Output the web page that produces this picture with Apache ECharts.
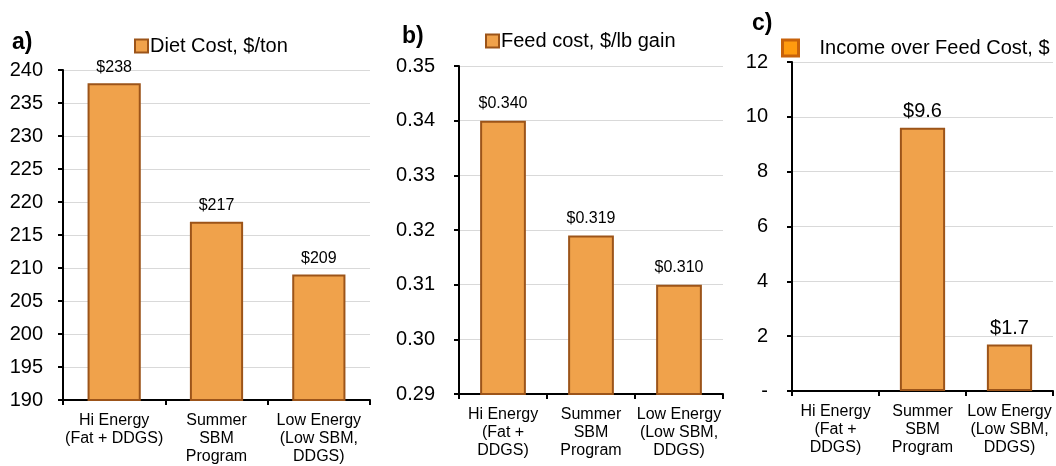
<!DOCTYPE html>
<html>
<head>
<meta charset="utf-8">
<script src="https://cdn.jsdelivr.net/npm/echarts@6/dist/echarts.min.js"></script>
<style>
  html, body { margin: 0; padding: 0; background: #fff; }
  #chart { width: 1056px; height: 466px; }
</style>
</head>
<body>
<div id="chart"></div>
<script>
// Category labels (panel a wraps differently from b and c)
const categoriesA = ['Hi Energy\n(Fat + DDGS)', 'Summer\nSBM\nProgram', 'Low Energy\n(Low SBM,\nDDGS)'];
const categoriesBC = ['Hi Energy\n(Fat +\nDDGS)', 'Summer\nSBM\nProgram', 'Low Energy\n(Low SBM,\nDDGS)'];

// Series values
const dietCost = [238, 217, 209];            // $/ton
const feedCost = [0.340, 0.319, 0.310];      // $/lb gain
const incomeOverFeed = [null, 9.6, 1.7];     // $

// Series names
const seriesNames = ['Diet Cost, $/ton', 'Feed cost, $/lb gain', 'Income over Feed Cost, $'];

// Axis ranges
const axisA = { min: 190, max: 240, interval: 5 };
const axisB = { min: 0.29, max: 0.35, interval: 0.01 };
const axisC = { min: 0, max: 12, interval: 2 };

const FONT = '"Liberation Sans", Arial, Helvetica, sans-serif';
const FILL = '#F0A24B';
const EDGE = '#9C5419';

const chart = echarts.init(document.getElementById('chart'), null, { renderer: 'canvas' });

function valueAxis(idx, range, margin, fmt) {
  return {
    type: 'value', gridIndex: idx,
    min: range.min, max: range.max, interval: range.interval,
    axisLine: { show: true, lineStyle: { color: '#000', width: 2 } },
    axisTick: { show: true, length: 5, inside: false, lineStyle: { color: '#000', width: 2 } },
    splitLine: { show: true, lineStyle: { color: '#d9d9d9', width: 1 } },
    axisLabel: { margin: margin, fontSize: 20, color: '#000', fontFamily: FONT, formatter: fmt }
  };
}

function catAxis(idx, cats) {
  return {
    type: 'category', gridIndex: idx, data: cats,
    axisLine: { show: true, lineStyle: { color: '#000', width: 2 } },
    axisTick: { show: true, length: 5, alignWithLabel: false, lineStyle: { color: '#000', width: 2 } },
    axisLabel: { margin: 12, fontSize: 16, lineHeight: 18, color: '#000', fontFamily: FONT, interval: 0 }
  };
}

function barSeries(idx, name, data, labelSize, fmt, dist) {
  return {
    type: 'bar', name: name, xAxisIndex: idx, yAxisIndex: idx,
    data: data, barWidth: '52%',
    itemStyle: { color: FILL, borderColor: EDGE, borderWidth: 2 },
    label: {
      show: true, position: 'top', distance: dist,
      fontSize: labelSize, color: '#000', fontFamily: FONT, formatter: fmt
    },
    emphasis: { disabled: true },
    animation: false
  };
}

const option = {
  animation: false,
  backgroundColor: '#fff',
  textStyle: { fontFamily: FONT },
  grid: [
    { left: 63, top: 70, width: 307, height: 332 },
    { left: 459, top: 66, width: 264, height: 328 },
    { left: 792, top: 62, width: 261, height: 329 }
  ],
  xAxis: [catAxis(0, categoriesA), catAxis(1, categoriesBC), catAxis(2, categoriesBC)],
  yAxis: [
    valueAxis(0, axisA, 20, v => String(v)),
    valueAxis(1, axisB, 24, v => v.toFixed(2)),
    valueAxis(2, axisC, 24, v => (v === 0 ? '-' : String(v)))
  ],
  legend: [
    {
      data: [seriesNames[0]], left: 129, top: 31,
      itemWidth: 13, itemHeight: 13,
      icon: 'rect',
      itemStyle: { color: FILL, borderColor: EDGE, borderWidth: 2 },
      textStyle: { fontSize: 20, color: '#000', fontFamily: FONT, padding: [0, 0, 0, -3] },
      selectedMode: false
    },
    {
      data: [seriesNames[1]], left: 480, top: 26,
      itemWidth: 13, itemHeight: 13,
      icon: 'rect',
      itemStyle: { color: FILL, borderColor: EDGE, borderWidth: 2 },
      textStyle: { fontSize: 20, color: '#000', fontFamily: FONT, padding: [0, 0, 0, -3] },
      selectedMode: false
    },
    {
      data: [seriesNames[2]], left: 776, top: 33,
      itemWidth: 16, itemHeight: 16,
      icon: 'rect',
      itemStyle: { color: '#FF9B0F', borderColor: '#C8620A', borderWidth: 3 },
      textStyle: { fontSize: 20, color: '#000', fontFamily: FONT, padding: [0, 0, 0, 16] },
      selectedMode: false
    }
  ],
  graphic: [
    { type: 'text', left: 12, top: 31, style: { text: 'a)', font: 'bold 23px ' + FONT, fill: '#000' } },
    { type: 'text', left: 402, top: 25, style: { text: 'b)', font: 'bold 23px ' + FONT, fill: '#000' } },
    { type: 'text', left: 752, top: 12, style: { text: 'c)', font: 'bold 23px ' + FONT, fill: '#000' } }
  ],
  series: [
    barSeries(0, seriesNames[0], dietCost, 16, p => '$' + Math.round(p.value), 8),
    barSeries(1, seriesNames[1], feedCost, 16, p => '$' + p.value.toFixed(3), 9),
    barSeries(2, seriesNames[2], incomeOverFeed, 20, p => '$' + p.value.toFixed(1), 6)
  ]
};

chart.setOption(option);
</script>
</body>
</html>
